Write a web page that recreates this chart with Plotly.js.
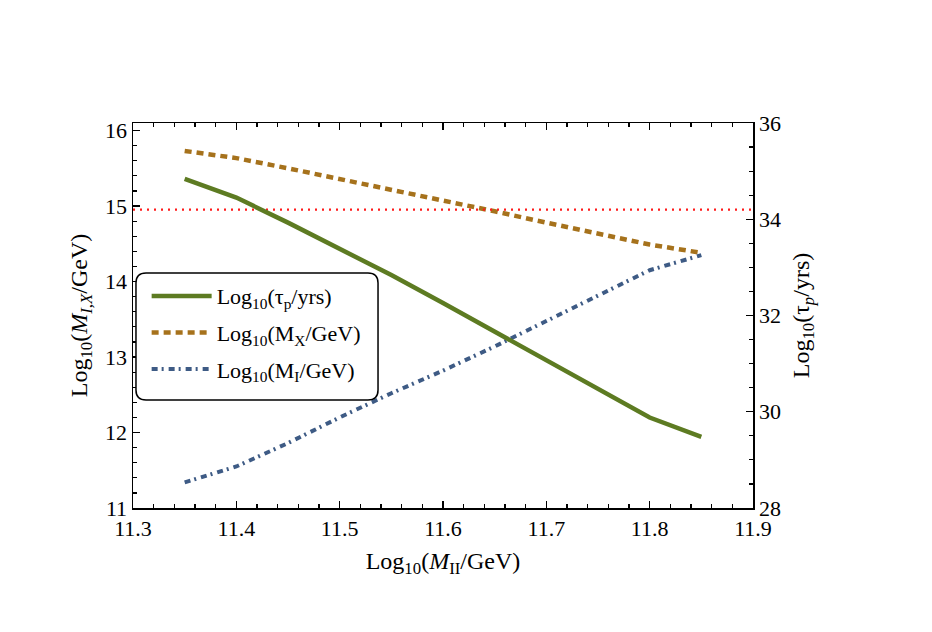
<!DOCTYPE html>
<html>
<head>
<meta charset="utf-8">
<script src="https://cdn.plot.ly/plotly-3.0.1.min.js"></script>
<style>html,body{margin:0;padding:0;background:#fff;}</style>
</head>
<body>
<div id="chart" style="width:932px;height:632px;"></div>
<script>
// Data
const logMII   = [11.35, 11.40, 11.45, 11.50, 11.55, 11.60, 11.65, 11.70, 11.75, 11.80, 11.85];
const logTauP  = [34.84, 34.45, 33.93, 33.38, 32.84, 32.26, 31.66, 31.06, 30.47, 29.88, 29.48];
const logMX    = [15.73, 15.635, 15.50, 15.36, 15.22, 15.08, 14.93, 14.78, 14.63, 14.49, 14.38];
const logMI    = [11.34, 11.55, 11.86, 12.20, 12.52, 12.82, 13.14, 13.48, 13.81, 14.15, 14.35];
const boundX   = [11.3, 11.9];
const boundTau = [34.2, 34.2];
const names = ['Log<sub>10</sub>(τ<sub>p</sub>/yrs)', 'Log<sub>10</sub>(M<sub>X</sub>/GeV)', 'Log<sub>10</sub>(M<sub>I</sub>/GeV)'];

const FONT = 'Liberation Serif, Times New Roman, serif';

const traces = [
  {x: boundX, y: boundTau, yaxis: 'y2', mode: 'lines', showlegend: false, hoverinfo: 'skip',
   line: {color: '#ff1a1a', width: 2.2, dash: '2px,5px'}},
  {x: logMII, y: logTauP, yaxis: 'y2', mode: 'lines', name: names[0], legendgroup: 'a',
   line: {color: '#5d7b22', width: 4.5}},
  {x: logMII, y: logMX, yaxis: 'y', mode: 'lines', name: names[1], legendgroup: 'b',
   line: {color: '#a6721c', width: 4.5, dash: '7px,5px'}},
  {x: logMII, y: logMI, yaxis: 'y', mode: 'lines', name: names[2], legendgroup: 'c',
   line: {color: '#3e5b85', width: 4, dash: '6px,4px,2px,5px'}}
];

const ax = {
  showline: true, linecolor: '#000', linewidth: 1.5, ticks: 'inside', ticklen: 7, tickwidth: 1.2,
  tickcolor: '#000', showgrid: false, zeroline: false,
  tickfont: {family: FONT, size: 22, color: '#000'}
};

const layout = {
  width: 932, height: 632,
  margin: {l: 133, r: 179, t: 123, b: 124},
  paper_bgcolor: '#fff', plot_bgcolor: '#fff',
  font: {family: FONT, color: '#000'},
  xaxis: Object.assign({}, ax, {
    range: [11.3, 11.9], dtick: 0.1, tick0: 11.3, mirror: 'ticks', tickformat: '.1f',
    minor: {dtick: 0.02, tick0: 11.3, ticks: 'inside', ticklen: 4, tickcolor: '#000', tickwidth: 1.2},
    title: {text: 'Log<sub>10</sub>(<i>M</i><sub>II</sub>/GeV)', font: {family: FONT, size: 24, color: '#000'}, standoff: 12}
  }),
  yaxis: Object.assign({}, ax, {
    range: [11, 16.1], dtick: 1, tick0: 11,
    minor: {dtick: 0.2, tick0: 11, ticks: 'inside', ticklen: 4, tickcolor: '#000', tickwidth: 1.2},
    title: {text: 'Log<sub>10</sub>(<i>M</i><sub><i>I,X</i></sub>/GeV)', font: {family: FONT, size: 24, color: '#000'}, standoff: 10}
  }),
  yaxis2: Object.assign({}, ax, {
    range: [28, 36], dtick: 2, tick0: 28, overlaying: 'y', side: 'right',
    minor: {dtick: 0.5, tick0: 28, ticks: 'inside', ticklen: 4, tickcolor: '#000', tickwidth: 1.2},
    title: {text: 'Log<sub>10</sub>(τ<sub><i>p</i></sub>/yrs)', font: {family: FONT, size: 24, color: '#000'}, standoff: 12}
  }),
  legend: {
    x: 0.022, y: 0.605, xanchor: 'left', yanchor: 'top',
    bgcolor: 'rgba(0,0,0,0)', borderwidth: 0,
    font: {family: FONT, size: 22, color: '#000'},
    traceorder: 'grouped', tracegroupgap: 5, itemwidth: 60
  },
  shapes: [{
    type: 'path', xref: 'paper', yref: 'paper',
    path: 'M 0.0210,0.6104 L 0.3790,0.6104 Q 0.3952,0.6104 0.3952,0.5844 L 0.3952,0.3065 Q 0.3952,0.2805 0.3790,0.2805 L 0.0210,0.2805 Q 0.0048,0.2805 0.0048,0.3065 L 0.0048,0.5844 Q 0.0048,0.6104 0.0210,0.6104 Z',
    line: {color: '#000', width: 1.5}, fillcolor: 'rgba(255,255,255,1)', layer: 'above'
  }]
};

Plotly.newPlot('chart', traces, layout, {displayModeBar: false, staticPlot: true});
</script>
</body>
</html>
